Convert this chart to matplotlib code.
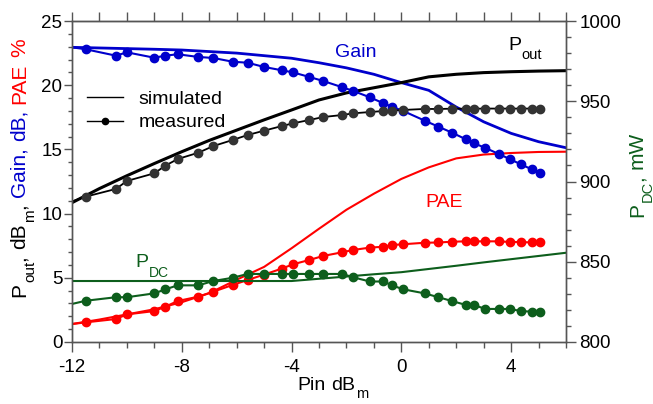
import numpy as np
import matplotlib
matplotlib.use("Agg")
import matplotlib.pyplot as plt
from matplotlib.lines import Line2D
from matplotlib.ticker import MultipleLocator
from matplotlib.transforms import offset_copy

plt.rcParams['font.family'] = ['Liberation Sans', 'DejaVu Sans']
plt.rcParams['axes.unicode_minus'] = False

# ---------------- data ----------------
pin_meas = [-12.0, -11.5, -10.4, -10.0, -9.0, -8.6, -8.15, -7.4, -6.85, -6.15, -5.6,
            -5.0, -4.35, -3.95, -3.35, -2.85, -2.15, -1.75, -1.15, -0.65, -0.35, 0.05,
            0.85, 1.35, 1.85, 2.35, 2.65, 3.05, 3.55, 3.95, 4.35, 4.75, 5.05]
gain_meas = [22.95, 22.80, 22.30, 22.56, 22.14, 22.30, 22.41, 22.20, 22.12, 21.83, 21.75,
             21.42, 21.16, 21.00, 20.64, 20.33, 19.84, 19.55, 19.06, 18.59, 18.33, 18.01,
             17.24, 16.77, 16.30, 15.79, 15.47, 15.13, 14.64, 14.25, 13.84, 13.45, 13.14]
pout_meas = [10.95, 11.32, 11.92, 12.54, 13.14, 13.73, 14.25, 14.74, 15.26, 15.73, 16.12,
             16.46, 16.82, 17.03, 17.29, 17.52, 17.68, 17.81, 17.91, 17.99, 18.01, 18.07,
             18.15, 18.15, 18.17, 18.17, 18.17, 18.18, 18.18, 18.18, 18.18, 18.18, 18.18]
pae_meas = [1.40, 1.53, 1.79, 2.15, 2.41, 2.75, 3.19, 3.53, 3.92, 4.44, 4.83,
            5.25, 5.72, 6.05, 6.39, 6.70, 6.99, 7.17, 7.35, 7.42, 7.55, 7.61,
            7.73, 7.75, 7.81, 7.84, 7.84, 7.84, 7.84, 7.79, 7.79, 7.75, 7.75]
pdc_meas = [823.7, 825.7, 827.9, 827.9, 830.3, 832.8, 835.3, 835.3, 838.0, 840.0, 842.4,
            842.4, 842.4, 842.4, 842.4, 842.4, 842.4, 840.3, 837.7, 837.7, 835.4, 832.9,
            830.3, 827.9, 825.5, 823.1, 823.1, 820.6, 820.6, 820.6, 819.3, 818.9, 818.9]

pin_sim = [-12, -11, -10, -9, -8, -7, -6, -5, -4, -3, -2, -1, 0, 1, 2, 3, 4, 5, 6]
gain_sim = [22.95, 22.9, 22.85, 22.8, 22.74, 22.62, 22.5, 22.3, 22.1, 21.75, 21.35, 20.85,
            20.2, 19.6, 18.3, 17.15, 16.25, 15.6, 15.13]
pout_sim = [10.85, 11.95, 12.95, 13.9, 14.82, 15.7, 16.5, 17.3, 18.07, 18.85, 19.4, 19.8,
            20.2, 20.65, 20.85, 20.98, 21.05, 21.1, 21.13]
pae_sim = [1.4, 1.75, 2.15, 2.55, 3.1, 3.8, 4.85, 5.85, 7.3, 8.82, 10.3, 11.55,
           12.7, 13.6, 14.3, 14.6, 14.72, 14.8, 14.82]
pdc_sim = [838.0, 838.0, 838.0, 838.0, 838.0, 838.0, 838.0, 838.0, 838.0, 839.4, 840.8, 842.2,
           843.5, 845.5, 847.5, 849.6, 851.6, 853.6, 855.6]

BLUE = '#0000cc'
RED = '#ff0000'
GREEN = '#0d5e1c'
BLACK = '#000000'
DOT = '#333333'
SPINE = '#555555'

fig = plt.figure(figsize=(6.53, 4.04), dpi=100)
ax = fig.add_axes([72/653, 1-342/404, (566-72)/653, (342-21)/404])
ax2 = ax.twinx()

mk = dict(marker='o', markersize=6, markevery=slice(1, None))
# simulated
ax.plot(pin_sim, gain_sim, color=BLUE, lw=2.0)
ax.plot(pin_sim, pout_sim, color=BLACK, lw=2.2)
ax.plot(pin_sim, pae_sim, color=RED, lw=1.5)
ax2.plot(pin_sim, pdc_sim, color=GREEN, lw=1.5)
# measured
ax.plot(pin_meas, gain_meas, color=BLUE, lw=1.5, mfc=BLUE, mec=BLUE, **mk)
ax.plot(pin_meas, pout_meas, color=BLACK, lw=1.3, mfc=DOT, mec=DOT, **mk)
ax.plot(pin_meas, pae_meas, color=RED, lw=1.5, mfc=RED, mec=RED, **mk)
ax2.plot(pin_meas, pdc_meas, color=GREEN, lw=1.5, mfc=GREEN, mec=GREEN, **mk)

ax.set_xlim(-12, 6)
ax.set_ylim(0, 25)
ax2.set_ylim(800, 1000)

ax.xaxis.set_major_locator(MultipleLocator(4))
ax.xaxis.set_minor_locator(MultipleLocator(1))
ax.yaxis.set_major_locator(MultipleLocator(5))
ax.yaxis.set_minor_locator(MultipleLocator(1))
ax2.yaxis.set_major_locator(MultipleLocator(50))
ax2.yaxis.set_minor_locator(MultipleLocator(10))

for a in (ax, ax2):
    for s in a.spines.values():
        s.set_color(SPINE)
        s.set_linewidth(1.0)

ax.tick_params(axis='x', which='major', direction='out', length=7, width=1, color=SPINE,
               labelsize=13.5, pad=5)
ax.tick_params(axis='x', which='minor', direction='out', length=4, width=1, color=SPINE)
ax.tick_params(axis='y', which='major', direction='out', length=5.5, width=1, color=SPINE,
               labelsize=13.5, pad=1.5)
ax.tick_params(axis='y', which='minor', direction='out', length=3, width=1, color=SPINE)
ax2.tick_params(axis='y', which='major', direction='out', length=7, width=1, color=SPINE,
                labelsize=13.5, pad=2.5)
ax2.tick_params(axis='y', which='minor', direction='out', length=3.5, width=1, color=SPINE)

sec = ax.secondary_xaxis('top')
sec.set_xticks(np.arange(-12, 7, 1))
sec.tick_params(axis='x', direction='out', length=6.5, width=1, color=SPINE, labeltop=False)
sec.spines['top'].set_color(SPINE)

# legend
hs = [Line2D([], [], color=BLACK, lw=1.0),
      Line2D([], [], color=BLACK, lw=1.0, marker='o', markersize=4.5)]
ax.legend(hs, ['simulated', 'measured'], loc='upper left', bbox_to_anchor=(0.03, 0.785),
          frameon=False, fontsize=14, handlelength=1.85, handletextpad=0.8,
          labelspacing=0.32, borderpad=0, borderaxespad=0)

fig.canvas.draw()
renderer = fig.canvas.get_renderer()


def rich(x, y, trans, pieces, rotation=0):
    """pieces: (text, colour, fontsize, drop_pts) or ('GAP', pts)"""
    adv = 0.0
    for p in pieces:
        if p[0] == 'GAP':
            adv += p[1]
            continue
        s, c, fs, drop = p
        if rotation == 0:
            dx, dy = adv, -drop
        else:
            dx, dy = drop, adv
        tr = offset_copy(trans, fig=fig, x=dx, y=dy, units='points')
        t = fig.text(x, y, s, transform=tr, color=c, fontsize=fs, rotation=rotation,
                     rotation_mode='anchor', ha='left', va='baseline')
        bb = t.get_window_extent(renderer)
        w = bb.width if rotation == 0 else bb.height
        adv += w * 72.0 / fig.dpi + 0.4


# annotations inside the plot
rich(-2.42, 22.2, ax.transData, [('Gain', BLUE, 14, 0)])
rich(3.89, 22.74, ax.transData, [('P', BLACK, 14, 0), ('out', BLACK, 10.5, 6.5)])
rich(0.86, 10.5, ax.transData, [('PAE', RED, 14, 0)])
rich(-9.70, 5.84, ax.transData, [('P', GREEN, 14, 0), ('DC', GREEN, 10, 7)])

# x label
rich(297 / 653, 14 / 404, fig.transFigure,
     [('Pin', BLACK, 14, 0), ('GAP', 3.9), ('dB', BLACK, 14, 0), ('m', BLACK, 10.5, 5.5)])

# multicolour left y label
G = 0.278 * 15
rich(25 / 653, 107 / 404, fig.transFigure,
     [('P', BLACK, 15, 0), ('out', BLACK, 11, 6.5), (',', BLACK, 15, 0), ('GAP', G),
      ('dB', BLACK, 15, 0), ('m', BLACK, 11, 6.5), (',', BLACK, 15, 0), ('GAP', G),
      ('Gain,', BLUE, 15, 0), ('GAP', G), ('dB,', BLUE, 15, 0), ('GAP', G),
      ('PAE', RED, 15, 0), ('GAP', G), ('%', RED, 15, 0)], rotation=90)

# right y label
rich(643 / 653, 187 / 404, fig.transFigure,
     [('P', GREEN, 15, 0), ('DC', GREEN, 10.5, 6), (',', GREEN, 15, 0), ('GAP', G),
      ('mW', GREEN, 15, 0)], rotation=90)

fig.savefig('out.png', dpi=100)
